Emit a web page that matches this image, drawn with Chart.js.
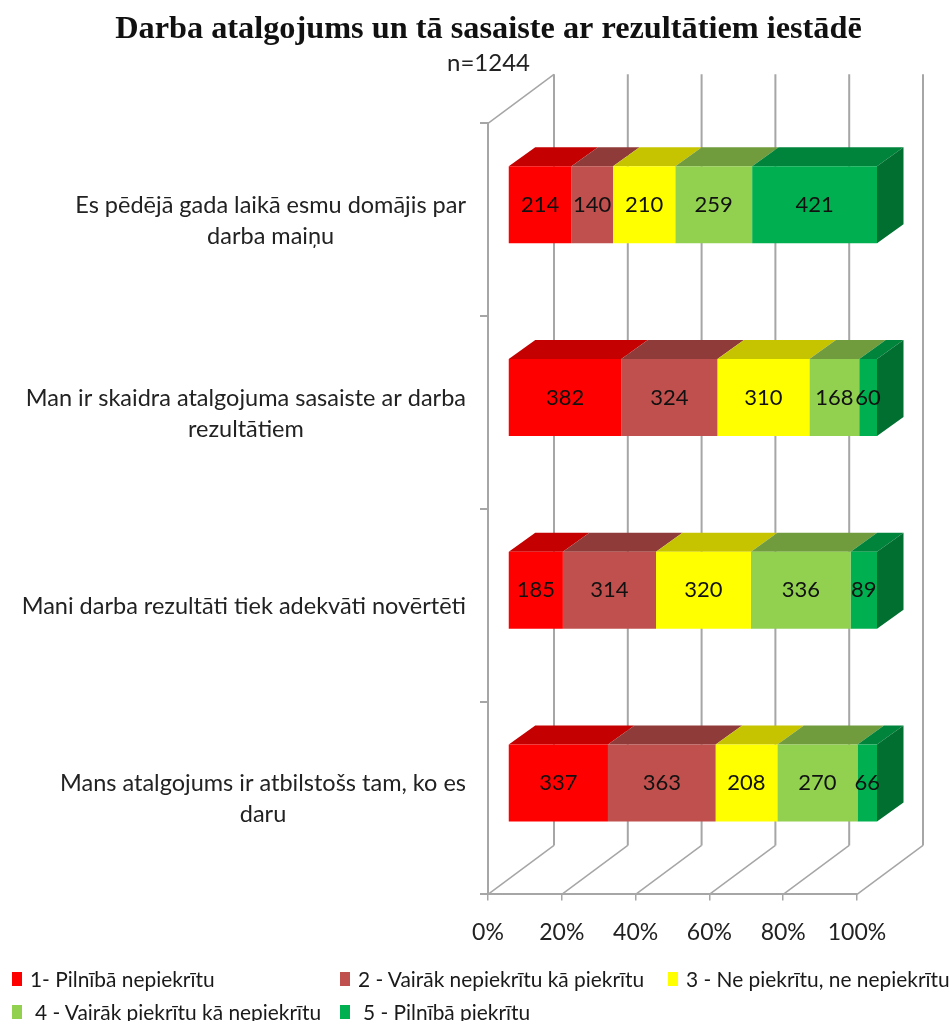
<!DOCTYPE html>
<html lang="lv">
<head>
<meta charset="utf-8">
<title>Darba atalgojums</title>
<script src="https://cdn.jsdelivr.net/npm/chart.js@4"></script>
<style>
  html, body { margin: 0; padding: 0; background: #fff; }
  #wrap { position: relative; width: 951px; height: 1021px; overflow: hidden; }
  #legend {
    position: absolute; left: 12px; top: 962px;
    display: grid; grid-template-columns: 328px 328px 283px; grid-auto-rows: 33px;
    font: 20.9px Lato, sans-serif; color: #1a1a1a; white-space: nowrap;
  }
  .legend-item { display: flex; align-items: center; }
  .legend-box { width: 10px; height: 14px; margin-right: 8px; flex: none; }
  .legend-item:nth-child(n+4) .legend-box { margin-right: 13px; }
</style>
</head>
<body>
<div id="wrap">
  <canvas id="chart" width="951" height="1021"></canvas>
  <div id="legend"></div>
</div>
<script>
const categories = [
  ['Es pēdējā gada laikā esmu domājis par', 'darba maiņu'],
  ['Man ir skaidra atalgojuma sasaiste ar darba', 'rezultātiem'],
  ['Mani darba rezultāti tiek adekvāti novērtēti'],
  ['Mans atalgojums ir atbilstošs tam, ko es', 'daru']
];
const seriesNames = [
  '1- Pilnībā nepiekrītu',
  '2 - Vairāk nepiekrītu kā piekrītu',
  '3 - Ne piekrītu, ne nepiekrītu',
  '4 - Vairāk piekrītu kā nepiekrītu',
  '5 - Pilnībā piekrītu'
];
const fully = [214, 382, 185, 337];
const ratherNot = [140, 324, 314, 363];
const neutral = [210, 310, 320, 208];
const rather = [259, 168, 336, 270];
const agree = [421, 60, 89, 66];
const counts = [fully, ratherNot, neutral, rather, agree];

const frontColors = ['#ff0000', '#c0504d', '#ffff00', '#92d050', '#00b050'];
const topColors = ['#c40000', '#8f3b39', '#c6c400', '#719c3e', '#00843c'];
const sideColor = '#006f30';
const gridColor = '#a6a6a6';

// fake 3D depth, pixels
const wallDx = 66, wallDy = -49;
const barDx = 26.5, barDy = -19;
const shiftX = 20, shiftY = -15;

const totals = categories.map((_, i) => counts.reduce((sum, s) => sum + s[i], 0));

function face(ctx, pts, color) {
  ctx.fillStyle = color;
  ctx.beginPath();
  pts.forEach(([x, y], i) => (i ? ctx.lineTo(x, y) : ctx.moveTo(x, y)));
  ctx.closePath();
  ctx.fill();
}

const wallsPlugin = {
  id: 'walls',
  beforeDatasetsDraw(chart) {
    const { ctx, chartArea: { top, bottom } } = chart;
    const xScale = chart.scales.x;
    ctx.save();
    ctx.strokeStyle = gridColor;
    xScale.ticks.forEach((_, i) => {
      const x = xScale.getPixelForTick(i);
      ctx.lineWidth = 1.5;
      ctx.beginPath();
      ctx.moveTo(x, bottom);
      ctx.lineTo(x + wallDx, bottom + wallDy);
      ctx.stroke();
      ctx.lineWidth = 2;
      ctx.beginPath();
      ctx.moveTo(x + wallDx, bottom + wallDy);
      ctx.lineTo(x + wallDx, top + wallDy);
      ctx.stroke();
    });
    const left = xScale.getPixelForTick(0);
    ctx.lineWidth = 1.5;
    ctx.beginPath();
    ctx.moveTo(left, top);
    ctx.lineTo(left + wallDx, top + wallDy);
    ctx.stroke();
    ctx.restore();
  }
};

const boxPlugin = {
  id: 'box',
  beforeDatasetsDraw(chart) {
    const { ctx } = chart;
    ctx.save();
    ctx.translate(shiftX, shiftY);
    chart.data.datasets.forEach((ds, d) => {
      chart.getDatasetMeta(d).data.forEach(bar => {
        const t = bar.y - bar.height / 2;
        face(ctx, [[bar.base, t], [bar.x, t], [bar.x + barDx, t + barDy], [bar.base + barDx, t + barDy]], topColors[d]);
        if (d === chart.data.datasets.length - 1) {
          const b = t + bar.height;
          face(ctx, [[bar.x, t], [bar.x + barDx, t + barDy], [bar.x + barDx, b + barDy], [bar.x, b]], sideColor);
        }
      });
    });
  },
  afterDatasetsDraw(chart) {
    const { ctx } = chart;
    ctx.font = '22px Lato, sans-serif';
    ctx.textAlign = 'center';
    ctx.textBaseline = 'middle';
    ctx.fillStyle = '#111';
    chart.data.datasets.forEach((ds, d) => {
      chart.getDatasetMeta(d).data.forEach((bar, i) => {
        ctx.fillText(String(counts[d][i]), (bar.base + bar.x) / 2, bar.y);
      });
    });
    ctx.restore();
  }
};

// category labels: block right aligned to the axis, lines centred inside it
const catLabelsPlugin = {
  id: 'catLabels',
  afterDraw(chart) {
    const { ctx } = chart;
    const yScale = chart.scales.y;
    ctx.save();
    ctx.font = '23.5px Lato, sans-serif';
    ctx.textBaseline = 'middle';
    ctx.textAlign = 'center';
    ctx.fillStyle = '#222';
    const rightEdge = 466, lineH = 31;
    categories.forEach((lines, i) => {
      const y = yScale.getPixelForTick(i) + 1;
      const w = Math.max(...lines.map(l => ctx.measureText(l).width));
      lines.forEach((l, n) => {
        ctx.fillText(l, rightEdge - w / 2, y + (n - (lines.length - 1) / 2) * lineH);
      });
    });
    ctx.restore();
  }
};

const chart = new Chart(document.getElementById('chart'), {
  type: 'bar',
  data: {
    labels: categories,
    datasets: seriesNames.map((name, d) => ({
      label: name,
      data: counts[d].map((v, i) => v / totals[i] * 100),
      backgroundColor: frontColors[d],
      categoryPercentage: 1,
      barPercentage: 0.4
    }))
  },
  options: {
    indexAxis: 'y',
    responsive: false,
    animation: false,
    layout: { padding: { left: 26, right: 0, top: 0, bottom: 57 } },
    plugins: {
      legend: { display: false },
      tooltip: { enabled: false },
      title: {
        display: true,
        text: 'Darba atalgojums un tā sasaiste ar rezultātiem iestādē',
        color: '#111',
        font: { family: "'Liberation Serif', serif", size: 32.3, weight: 'bold' },
        padding: { top: 10, bottom: 0 }
      },
      subtitle: {
        display: true,
        text: 'n=1244',
        color: '#222',
        font: { family: 'Lato, sans-serif', size: 24 },
        padding: { bottom: 45.8 }
      }
    },
    scales: {
      x: {
        stacked: true,
        min: 0,
        max: 100,
        ticks: {
          stepSize: 20,
          color: '#222',
          padding: 18,
          font: { family: 'Lato, sans-serif', size: 23 },
          callback: v => v + '%'
        },
        grid: { drawOnChartArea: false, tickLength: 6, color: gridColor, lineWidth: 1.5 },
        border: { color: gridColor, width: 2 }
      },
      y: {
        stacked: true,
        ticks: { display: false },
        afterFit: scale => { scale.width = 462; },
        grid: { drawOnChartArea: false, tickLength: 8, color: gridColor, lineWidth: 2 },
        border: { color: gridColor, width: 2 }
      },
      // empty axis, only keeps the room for the back wall on the right
      yRoom: {
        type: 'category',
        axis: 'y',
        position: 'right',
        labels: categories,
        ticks: { display: false },
        grid: { display: false },
        border: { display: false },
        afterFit: scale => { scale.width = 94; }
      }
    }
  },
  plugins: [wallsPlugin, boxPlugin, catLabelsPlugin]
});

// html legend, the built-in one cannot hold these columns
document.getElementById('legend').innerHTML = chart.data.datasets
  .map((ds, i) => `
    <div class="legend-item">
      <span class="legend-box" style="background: ${ds.backgroundColor}"></span>
      <span>${ds.label}</span>
    </div>
  `)
  .join('');
</script>
</body>
</html>
